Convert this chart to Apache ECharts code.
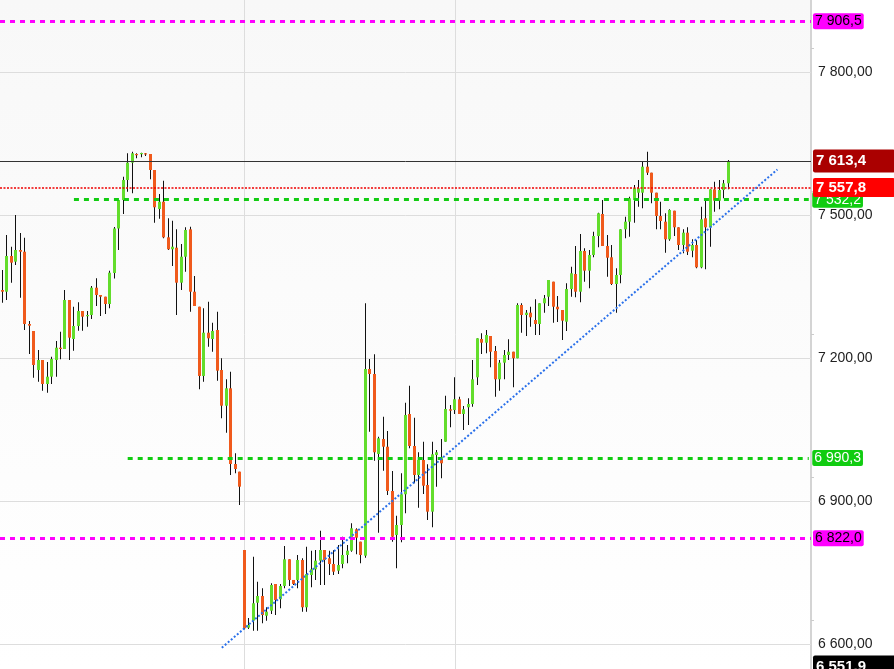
<!DOCTYPE html>
<html><head><meta charset="utf-8">
<script src="https://cdn.jsdelivr.net/npm/echarts@6/dist/echarts.min.js"></script>
<style>html,body{margin:0;padding:0;background:#fff}#c{width:894px;height:669px}</style>
</head><body><div id="c"></div>
<script>
const opens = [7342.7,7339.1,7414.0,7402.1,7426.6,7423.0,7271.3,7256.7,7174.8,7195.8,7145.5,7160.8,7195.8,7221.6,7218.9,7321.7,7239.9,7267.1,7298.6,7288.1,7290.2,7347.5,7332.2,7328.6,7313.3,7378.3,7471.7,7531.5,7573.5,7609.8,7628.0,7628.6,7629.5,7628.0,7594.4,7512.6,7527.9,7453.2,7428.1,7431.4,7358.0,7412.5,7470.0,7339.1,7307.6,7162.3,7253.1,7239.9,7258.8,7174.8,7099.9,7136.4,6977.6,6961.5,6797.2,6634.2,6648.9,6686.6,6700.7,6659.3,6669.8,6725.9,6693.8,6721.7,6777.7,6734.3,6734.3,6776.2,6677.0,6744.7,6756.7,6774.8,6797.2,6779.8,6767.8,6753.8,6767.8,6786.7,6795.7,6840.6,6814.6,6785.2,7176.9,7166.4,6998.6,7030.1,7013.9,6921.0,6828.7,6849.6,6914.1,7082.5,7015.4,6954.5,6986.0,6933.6,6877.6,6996.5,6988.1,7024.4,7092.4,7090.9,7113.4,7082.5,7096.6,7103.5,7159.5,7239.9,7232.1,7246.2,7214.7,7155.3,7190.2,7206.3,7213.2,7199.4,7311.2,7290.2,7295.1,7279.7,7271.3,7314.8,7328.6,7360.1,7307.6,7300.7,7276.2,7344.8,7376.2,7339.1,7424.5,7383.2,7416.1,7456.0,7502.1,7435.0,7411.3,7355.3,7374.1,7470.0,7486.0,7531.5,7546.8,7546.8,7601.4,7588.8,7546.8,7497.9,7486.0,7449.0,7509.0,7474.2,7437.1,7462.9,7425.1,7437.1,7390.3,7493.1,7474.2,7553.9,7530.0,7552.5,7566.5];
const closes = [7339.1,7414.0,7400.0,7426.6,7423.0,7271.3,7267.8,7185.3,7195.8,7145.5,7160.8,7197.9,7221.6,7218.9,7321.7,7242.6,7267.1,7298.6,7286.7,7290.2,7347.5,7332.2,7328.6,7313.3,7379.0,7471.7,7531.5,7573.5,7609.8,7629.5,7626.5,7630.1,7628.0,7594.4,7516.2,7527.9,7453.2,7428.1,7433.5,7358.0,7412.5,7468.6,7339.1,7309.1,7162.3,7253.1,7241.3,7256.7,7173.4,7099.9,7136.4,6977.6,6967.1,6930.0,6632.9,6639.8,6685.4,6700.7,6660.8,6667.8,6723.8,6692.3,6721.7,6777.7,6734.3,6725.9,6776.2,6677.0,6746.8,6756.7,6774.8,6797.2,6776.2,6767.8,6751.7,6765.7,6786.7,6795.7,6842.7,6823.0,6786.7,7176.9,7166.4,7002.2,7031.5,7013.9,6921.0,6825.1,6849.6,6914.1,7080.4,7015.4,6954.5,6986.0,6932.1,6877.6,6998.0,7002.2,6979.1,7093.0,7089.5,7113.4,7082.5,7092.4,7103.5,7155.3,7241.3,7232.1,7248.3,7213.2,7155.3,7190.2,7206.3,7213.2,7199.4,7311.2,7290.2,7295.1,7285.4,7271.3,7314.8,7325.3,7363.7,7307.6,7302.2,7278.3,7344.8,7377.7,7339.1,7424.5,7383.2,7416.1,7456.0,7503.6,7435.0,7410.4,7355.3,7374.1,7470.0,7486.0,7535.1,7556.1,7556.1,7601.4,7588.8,7546.8,7497.9,7487.4,7449.0,7510.5,7474.2,7437.1,7462.9,7423.0,7437.1,7390.3,7491.0,7474.2,7553.9,7530.0,7552.5,7566.5,7613.4];
const lows = [7316.0,7321.7,7358.0,7395.1,7326.5,7258.8,7208.4,7158.7,7150.3,7131.4,7127.2,7145.5,7160.8,7197.3,7218.9,7195.8,7215.3,7257.3,7257.3,7265.7,7281.8,7309.1,7288.1,7292.3,7304.3,7366.8,7426.6,7502.1,7548.9,7545.6,7619.0,7621.1,7623.8,7574.9,7483.9,7492.3,7451.1,7426.6,7393.0,7290.2,7342.7,7381.1,7297.1,7309.1,7134.3,7150.3,7223.7,7213.2,7152.4,7073.5,7043.3,6954.5,6958.1,6891.6,6630.8,6631.4,6627.9,6627.9,6643.4,6648.9,6662.9,6660.8,6674.9,6716.8,6721.7,6723.8,6716.8,6667.8,6667.8,6718.9,6734.3,6723.8,6723.8,6744.7,6744.7,6746.8,6758.8,6769.3,6793.6,6788.2,6769.3,6781.0,7045.4,6984.6,6833.5,6963.6,6912.6,6814.6,6758.8,6813.4,6874.2,7010.6,6937.1,6885.9,6914.7,6860.1,6844.8,6930.0,6947.6,7024.4,7054.6,7082.5,7082.5,7049.0,7059.4,7097.8,7143.4,7208.4,7209.9,7180.5,7118.8,7131.4,7155.3,7195.8,7138.5,7199.4,7253.1,7246.2,7265.7,7248.3,7248.3,7295.1,7309.1,7274.1,7275.5,7237.8,7256.7,7328.6,7327.4,7316.9,7360.1,7346.2,7411.3,7432.3,7435.0,7370.6,7353.2,7295.1,7356.7,7451.1,7454.5,7483.9,7517.4,7514.1,7583.9,7524.6,7470.0,7470.0,7420.9,7446.1,7456.0,7426.6,7419.7,7416.1,7411.3,7388.2,7388.2,7386.1,7433.5,7506.9,7512.0,7535.1,7553.9];
const highs = [7384.6,7458.1,7433.5,7500.0,7462.3,7452.4,7277.6,7256.7,7216.8,7195.8,7191.6,7202.7,7235.7,7255.2,7342.7,7321.7,7307.6,7316.9,7298.6,7298.6,7351.1,7367.2,7332.2,7328.6,7383.2,7474.9,7531.5,7580.4,7629.5,7632.8,7629.5,7630.7,7630.0,7628.0,7594.4,7544.1,7572.0,7493.1,7488.1,7470.0,7439.2,7474.2,7475.5,7372.1,7307.6,7304.3,7318.1,7274.1,7297.1,7199.4,7155.3,7171.3,7000.1,6961.5,6797.2,6654.5,6783.1,6730.7,6716.8,6677.0,6727.4,6725.9,6725.9,6805.6,6777.7,6734.3,6786.7,6779.8,6804.1,6795.7,6797.2,6837.7,6797.2,6795.7,6797.2,6807.7,6825.1,6807.7,6853.2,6842.7,6814.6,7314.8,7197.9,7207.8,7034.9,7076.9,7046.9,6962.9,6869.2,6958.1,7106.2,7141.9,7074.8,7002.2,7024.4,6977.0,7024.4,7007.0,7030.1,7120.9,7101.4,7159.5,7118.8,7099.3,7115.5,7195.8,7241.3,7251.8,7258.8,7246.2,7225.2,7195.8,7216.8,7239.2,7213.2,7314.8,7314.8,7300.7,7307.6,7323.2,7314.8,7332.2,7363.7,7360.1,7330.1,7300.7,7356.7,7391.6,7435.0,7460.2,7430.2,7426.6,7465.0,7504.9,7531.5,7458.1,7437.1,7388.2,7470.0,7496.5,7538.4,7563.0,7573.5,7611.9,7632.8,7588.8,7546.8,7527.9,7503.6,7512.0,7509.0,7474.2,7470.0,7474.2,7449.0,7447.6,7517.4,7530.0,7553.9,7569.9,7573.5,7573.5,7615.4];
const slotCount = 181;
const categories = Array.from({length: slotCount}, (_, i) => 'D' + (i + 1));
const yMin = 6547.5, yMax = 7951.1;
const yLabelValues = [6600, 6900, 7200, 7500, 7800];
const yTickValues = [6650, 6950, 7250, 7550, 7850];
const monthLines = [54, 101];
const trendStart = [49, 6592];
const trendEnd = [173, 7595.5];
const levelValues = [7906.5, 7613.4, 7532.2, 7557.8, 6990.3, 6822.0, 6551.9];
const levelStarts = [null, null, 16, null, 28, null, null];

function fmt(v, d) {
  const s = v.toFixed(d).split('.');
  const int = s[0].replace(/\B(?=(\d{3})+(?!\d))/g, ' ');
  return int + (s[1] ? ',' + s[1] : '');
}

const GREEN = '#63dd2c', RED = '#f05a1c';
const candleData = opens.map((o, i) => [i, o, closes[i], lows[i], highs[i]]);

const levelStyles = [
  {line: {color: '#ff00ff', width: 3, type: [5, 5]}, bg: '#ff00ff', fg: '#000', bold: false, wide: false},
  {line: {color: '#333333', width: 1, type: 'solid'}, bg: '#aa0000', fg: '#fff', bold: true, wide: true, tall: true},
  {line: {color: '#11cc11', width: 3, type: [5, 5]}, bg: '#11cc11', fg: '#fff', bold: false, wide: false},
  {line: {color: '#ee0000', width: 1.5, type: [2, 1.5]}, bg: '#ff0000', fg: '#fff', bold: true, wide: true},
  {line: {color: '#11cc11', width: 3, type: [5, 5]}, bg: '#11cc11', fg: '#fff', bold: false, wide: false},
  {line: {color: '#ff00ff', width: 3, type: [5, 5]}, bg: '#ff00ff', fg: '#000', bold: false, wide: false},
  {line: {color: 'rgba(0,0,0,0)', width: 1}, bg: '#000000', fg: '#fff', bold: true, wide: true, tall: true}
];

const levelData = levelValues.map((v, i) => {
  const st = levelStyles[i];
  const label = {
    show: true, position: 'end', distance: levelStarts[i] == null ? 2 : 3.5,
    formatter: fmt(v, 1),
    color: st.fg, backgroundColor: st.bg,
    fontFamily: 'Liberation Sans', fontSize: st.bold ? 15 : 14,
    fontWeight: st.bold ? 'bold' : 'normal',
    padding: st.tall ? [4, 3, 4, 3] : (st.bold ? [2, 3, 2, 3] : [1, 2, 1, 2]),
    borderRadius: 2,
    width: st.wide ? 76 : null,
    align: 'left',
    opacity: 1
  };
  if (levelStarts[i] == null) {
    return {yAxis: v, lineStyle: st.line, label: label};
  }
  return [{coord: [levelStarts[i], v], lineStyle: st.line, label: label}, {coord: [slotCount - 1, v]}];
});

const chart = echarts.init(document.getElementById('c'), null, {renderer: 'canvas'});
chart.setOption({
  animation: false,
  backgroundColor: '#ffffff',
  grid: {
    left: 0, right: 83, top: 0, bottom: 0, show: true, borderWidth: 0,
    backgroundColor: new echarts.graphic.LinearGradient(0, 0, 0, 1, [
      {offset: 0, color: '#f8f8f8'}, {offset: 1, color: '#ffffff'}
    ])
  },
  xAxis: {
    type: 'category', data: categories, boundaryGap: true,
    axisLine: {show: false}, axisTick: {show: false}, axisLabel: {show: false}, splitLine: {show: false}
  },
  yAxis: {
    type: 'value', position: 'right', min: yMin, max: yMax, scale: true,
    axisLine: {show: true, lineStyle: {color: '#d4d4d4', width: 2}},
    axisTick: {show: true, length: 3, customValues: yTickValues, lineStyle: {color: '#cccccc'}},
    axisLabel: {
      show: true, customValues: yLabelValues, margin: 7,
      color: '#222', fontFamily: 'Liberation Sans', fontSize: 14,
      formatter: v => fmt(v, 2)
    },
    splitLine: {show: false}
  },
  series: [
    {
      type: 'line', data: [], z: 1, silent: true,
      markLine: {
        z: 1, zlevel: 0,
        silent: true, symbol: ['none', 'none'], animation: false, label: {show: false},
        lineStyle: {color: '#dddddd', width: 1, type: 'solid'},
        data: yLabelValues.map(v => ({yAxis: v})).concat(monthLines.map(i => ({xAxis: i})))
      }
    },
    {
      type: 'custom', z: 3, clip: true, data: candleData,
      encode: {x: 0, y: [1, 2, 3, 4]},
      renderItem: function (params, api) {
        const idx = api.value(0);
        const o = api.value(1), c = api.value(2), l = api.value(3), h = api.value(4);
        const pO = api.coord([idx, o]), pC = api.coord([idx, c]);
        const pL = api.coord([idx, l]), pH = api.coord([idx, h]);
        const left = Math.round(pO[0] - 1.5);
        const top = Math.min(pO[1], pC[1]);
        const bh = Math.max(Math.abs(pO[1] - pC[1]), 1.2);
        return {
          type: 'group',
          children: [
            {type: 'rect', shape: {x: left + 1, y: pH[1], width: 1, height: Math.max(pL[1] - pH[1], 1)}, style: {fill: '#111111'}},
            {type: 'rect', shape: {x: left, y: top, width: 3, height: bh}, style: {fill: c >= o ? GREEN : RED}}
          ]
        };
      }
    },
    {
      type: 'line', data: [], z: 5, silent: true,
      markLine: {
        z: 5,
        silent: true, symbol: ['none', 'none'], animation: false,
        data: levelData
      }
    },
    {
      type: 'line', data: [], z: 6, silent: true,
      markLine: {
        z: 6,
        silent: true, symbol: ['none', 'none'], animation: false, label: {show: false},
        lineStyle: {color: '#2a70ea', width: 2, type: [2, 2]},
        data: [[{coord: trendStart}, {coord: trendEnd}]]
      }
    }
  ]
});
</script></body></html>
